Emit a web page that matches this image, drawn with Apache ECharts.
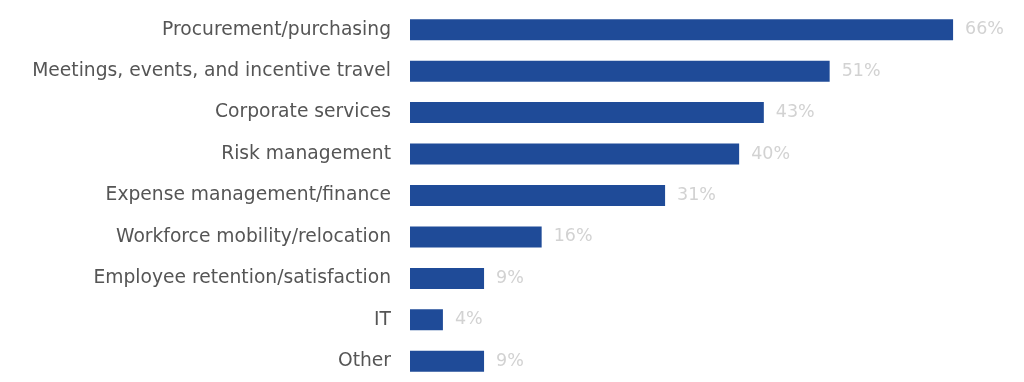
<!DOCTYPE html>
<html><head><meta charset="utf-8">
<script src="https://cdn.jsdelivr.net/npm/echarts@6/dist/echarts.min.js"></script>
<style>html,body{margin:0;padding:0;background:#fff}#c{width:1024px;height:382px}</style>
</head><body><div id="c"></div>
<script>
const categories = ["Procurement/purchasing","Meetings, events, and incentive travel","Corporate services","Risk management","Expense management/finance","Workforce mobility/relocation","Employee retention/satisfaction","IT","Other"];
const values = [66, 51, 43, 40, 31, 16, 9, 4, 9];

const chart = echarts.init(document.getElementById('c'));
chart.setOption({
  animation: false,
  grid: {left: 410, right: 38, top: 9, bottom: 0, containLabel: false},
  xAxis: {type: 'value', min: 0, max: 70, show: false},
  yAxis: {
    type: 'category', inverse: true, data: categories,
    axisLine: {show: false}, axisTick: {show: false},
    axisLabel: {color: '#555', fontSize: 18.7, fontFamily: 'DejaVu Sans', margin: 19}
  },
  series: [{
    type: 'bar', data: values, barWidth: 21,
    itemStyle: {color: '#1f4b98'},
    label: {show: true, position: 'right', distance: 12, formatter: '{c}%', color: '#d2d2d2', fontSize: 17.5, fontFamily: 'DejaVu Sans'}
  }]
});
</script></body></html>
